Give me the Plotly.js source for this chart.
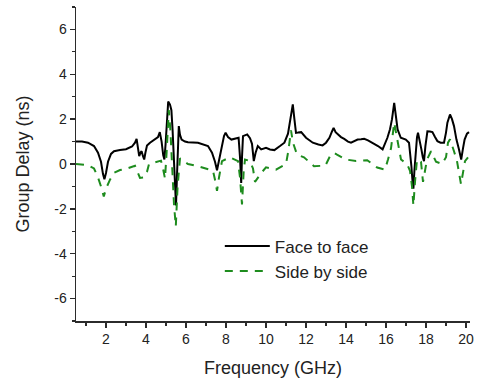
<!DOCTYPE html>
<html>
<head>
<meta charset="utf-8">
<script src="https://cdn.plot.ly/plotly-3.0.1.min.js"></script>
<style>html,body{margin:0;padding:0;background:#fff;}#chart{width:479px;height:381px;}</style>
</head>
<body>
<div id="chart"></div>
<script>
// Face to face (black solid)
const faceX = [0.5,0.8,1.1,1.4,1.6,1.75,1.85,1.92,2.0,2.1,2.25,2.4,2.7,3.0,3.3,3.45,3.53,3.6,3.66,3.72,3.78,3.85,3.91,3.97,4.05,4.2,4.45,4.6,4.69,4.78,4.86,4.92,4.98,5.05,5.11,5.2,5.27,5.33,5.4,5.45,5.5,5.55,5.6,5.64,5.7,5.78,5.95,6.1,6.6,7.1,7.3,7.45,7.55,7.65,7.77,7.9,7.98,8.1,8.27,8.5,8.63,8.7,8.76,8.8,8.85,9.06,9.2,9.3,9.39,9.48,9.59,9.76,10.0,10.2,10.42,10.7,10.92,11.1,11.2,11.3,11.34,11.42,11.5,11.6,11.76,12.0,12.34,12.62,12.83,13.0,13.17,13.3,13.38,13.48,13.58,13.75,13.91,14.1,14.25,14.45,14.58,14.75,14.91,15.1,15.33,15.6,15.83,15.95,16.07,16.2,16.3,16.41,16.5,16.58,16.74,16.99,17.15,17.22,17.27,17.32,17.37,17.42,17.49,17.55,17.6,17.68,17.77,17.84,17.9,17.97,18.07,18.2,18.32,18.45,18.57,18.73,18.9,19.0,19.07,19.2,19.3,19.4,19.52,19.65,19.76,19.85,19.93,20.05,20.15];
const faceY = [1.0,1.0,0.95,0.8,0.5,0.1,-0.45,-0.68,-0.4,0.1,0.45,0.57,0.62,0.66,0.78,0.95,1.12,0.7,0.35,0.5,0.57,0.35,0.2,0.5,0.82,0.95,1.09,1.2,1.42,1.0,0.4,0.2,0.9,2.3,2.78,2.65,2.4,1.5,0.35,-0.9,-1.85,-0.5,1.2,1.69,1.3,1.09,1.0,0.97,0.95,0.8,0.5,0.1,-0.28,0.2,0.8,1.25,1.39,1.2,1.09,1.12,1.17,0.3,-0.85,0.3,1.24,1.32,1.15,0.9,0.13,0.5,0.8,0.65,0.72,0.65,0.62,0.8,0.95,1.35,1.9,2.6,2.66,2.0,1.39,1.4,1.42,1.17,0.95,0.87,0.83,0.95,1.17,1.45,1.61,1.42,1.32,1.2,1.12,1.0,0.95,1.05,1.09,1.1,1.12,1.05,0.95,0.8,0.65,0.9,1.17,1.55,2.0,2.73,2.2,1.54,1.17,1.09,0.95,0.4,-0.1,-0.7,-1.1,-0.3,0.65,1.2,1.39,1.1,0.65,0.3,0.13,0.8,1.46,1.45,1.42,1.2,1.02,0.95,0.95,1.4,1.84,2.21,2.0,1.69,1.1,0.65,0.2,0.7,1.09,1.35,1.42];
// Side by side (green dashed)
const sideX = [0.5,0.8,1.1,1.4,1.6,1.75,1.89,2.0,2.2,2.41,2.7,3.0,3.3,3.45,3.55,3.7,3.9,4.05,4.15,4.4,4.75,4.85,4.95,5.03,5.14,5.22,5.3,5.4,5.49,5.58,5.7,5.85,6.1,6.6,7.2,7.35,7.45,7.55,7.65,7.8,8.2,8.6,8.7,8.8,8.88,8.95,9.2,9.35,9.45,9.6,9.76,10.0,10.5,11.0,11.12,11.25,11.35,11.55,11.9,12.4,12.7,12.97,13.2,13.4,13.55,14.0,14.5,15.06,15.56,15.95,16.1,16.25,16.41,16.55,16.65,16.75,17.05,17.2,17.3,17.37,17.45,17.55,17.75,17.85,17.95,18.05,18.25,18.5,18.8,19.0,19.1,19.2,19.4,19.55,19.75,19.85,19.95,20.1];
const sideY = [0.0,-0.02,-0.05,-0.2,-0.6,-1.0,-1.45,-1.1,-0.7,-0.39,-0.27,-0.22,-0.12,-0.08,-0.3,-0.62,-0.6,-0.35,0.0,0.07,0.15,-0.2,-0.65,0.5,2.4,1.5,-0.3,-1.8,-2.78,-1.0,0.25,0.15,0.0,-0.1,-0.25,-0.3,-0.7,-1.2,-0.6,0.13,0.3,0.13,-0.6,-1.8,-0.4,0.2,0.13,-0.2,-0.8,-0.6,-0.4,-0.15,-0.25,0.0,0.6,1.5,0.95,0.42,0.3,-0.1,-0.1,-0.07,0.35,0.5,0.42,0.2,0.13,0.17,-0.16,-0.25,0.2,0.7,1.84,1.2,0.6,0.2,0.0,-0.3,-1.0,-1.85,-0.8,0.2,0.1,-0.8,-0.3,0.2,0.57,0.1,0.0,0.3,0.95,1.1,0.57,0.13,-0.9,-0.3,0.13,0.3];

const seriesNames = ['Face to face', 'Side by side'];
const xTitle = 'Frequency (GHz)';
const yTitle = 'Group Delay (ns)';
const yTickVals = [-6, -4, -2, 0, 2, 4, 6];
const yTickText = ['-6', '-4', '-2', '0', '2', '4', '6'];

const FONT = '"Liberation Sans", Arial, sans-serif';
const axisCol = '#2b2b2b';

const traces = [
  {x: faceX, y: faceY, name: seriesNames[0], mode: 'lines',
   line: {color: '#000000', width: 2}},
  {x: sideX, y: sideY, name: seriesNames[1], mode: 'lines',
   line: {color: '#1e8c1e', width: 2, dash: '8px,7px'}}
];

const layout = {
  width: 479, height: 381,
  margin: {l: 76, r: 9, t: 7, b: 60},
  paper_bgcolor: '#ffffff', plot_bgcolor: '#ffffff',
  font: {family: FONT, size: 14, color: '#222'},
  showlegend: true,
  legend: {x: 0.365, y: 0.295, xanchor: 'left', yanchor: 'top', itemwidth: 45,
           bgcolor: 'rgba(0,0,0,0)', font: {size: 17, family: FONT, color: '#222'},
           tracegroupgap: 0},
  xaxis: {
    range: [0.5, 20.2], tick0: 0, dtick: 2, ticks: 'outside', ticklen: 5, tickwidth: 1.3,
    tickcolor: axisCol, showline: true, linecolor: axisCol, linewidth: 1.5,
    showgrid: false, zeroline: false,
    minor: {ticks: 'outside', ticklen: 3, tickwidth: 1.2, dtick: 1, tick0: 0, tickcolor: axisCol, showgrid: false},
    tickfont: {size: 14, family: FONT, color: '#222'},
    title: {text: xTitle, font: {size: 18, family: FONT, color: '#222'}, standoff: 15}
  },
  yaxis: {
    range: [-7, 7], tickmode: 'array', tickvals: yTickVals, ticktext: yTickText,
    ticks: 'outside', ticklen: 5, tickwidth: 1.3,
    tickcolor: axisCol, showline: true, linecolor: axisCol, linewidth: 1.5,
    showgrid: false, zeroline: false,
    minor: {tickmode: 'linear', ticks: 'outside', ticklen: 3, tickwidth: 1.2, dtick: 1, tick0: 0, tickcolor: axisCol, showgrid: false},
    tickfont: {size: 14, family: FONT, color: '#222'},
    title: {text: yTitle, font: {size: 18, family: FONT, color: '#222'}, standoff: 20}
  }
};

Plotly.newPlot('chart', traces, layout, {displayModeBar: false, staticPlot: true});
</script>
</body>
</html>
